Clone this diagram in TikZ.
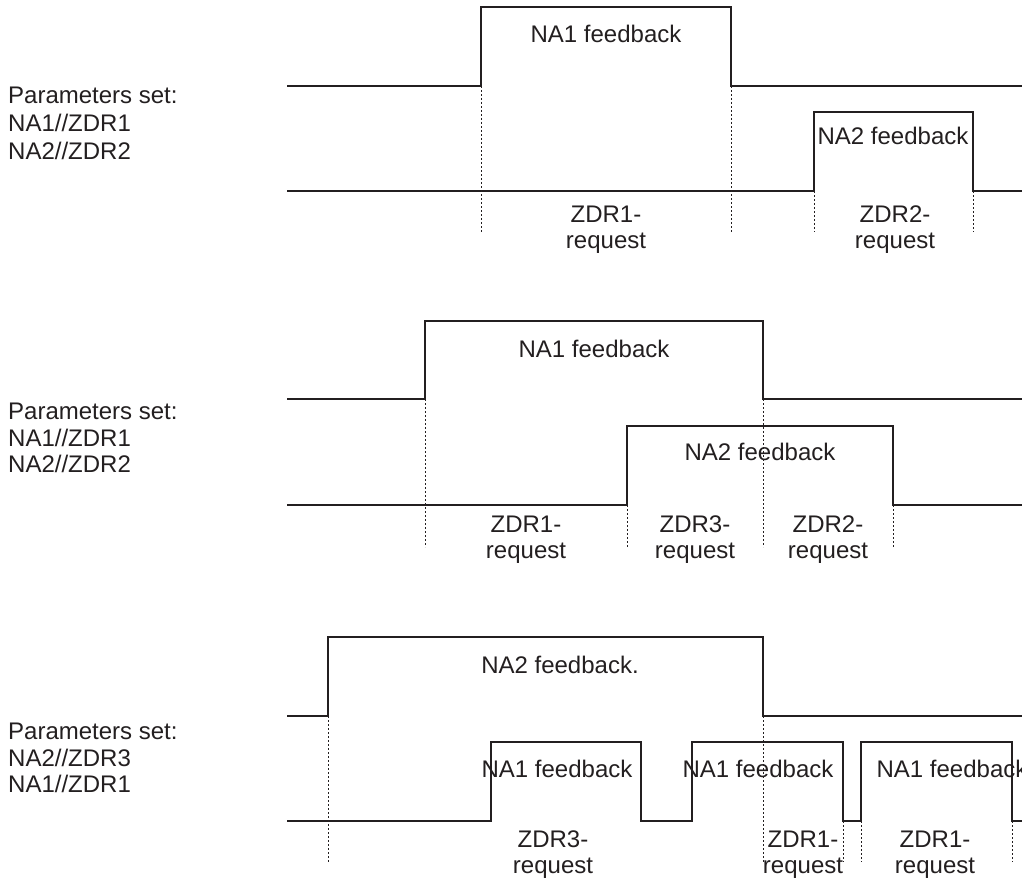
\documentclass[tikz,border=0pt]{standalone}
\usepackage{fontspec}
\setmainfont{Liberation Sans}
\definecolor{ink}{HTML}{231F20}
\begin{document}
\begin{tikzpicture}[x=1pt,y=-1pt,
  signal/.style={draw=ink, line width=1.3pt, line join=miter},
  guide/.style={draw=ink, line width=0.8pt, dash pattern=on 2pt off 2pt},
  lbl/.style={anchor=base, inner sep=0pt, text=ink, font=\fontsize{24}{27}\selectfont},
  param/.style={anchor=base west, inner sep=0pt, text=ink, font=\fontsize{24}{27}\selectfont}]
\useasboundingbox (0,0) rectangle (1022,880);

% ---------- first case ----------
\node[param] (a0) at (8,104) {Parameters set:};
\node[param] (a1) at (8,131.5) {NA1//ZDR1};
\node[param] (a2) at (8,159) {NA2//ZDR2};

\draw[signal] (287,86) -- (481,86) -- (481,7) -- (731,7) -- (731,86) -- (1022,86);
\draw[signal] (287,191) -- (814,191) -- (814,112) -- (973,112) -- (973,191) -- (1022,191);

\draw[guide] (481,86) -- (481,232);
\draw[guide] (731,86) -- (731,232);
\draw[guide] (814,191) -- (814,232);
\draw[guide] (973,191) -- (973,232);

\node[lbl] (a3) at (606,43) {NA1 feedback};
\node[lbl] (a4) at (893,145) {NA2 feedback};
\node[lbl] (a5) at (606,222) {ZDR1-};
\node[lbl] (a6) at (606,248) {request};
\node[lbl] (a7) at (895,222) {ZDR2-};
\node[lbl] (a8) at (895,248) {request};

% ---------- second case ----------
\node[param] (b0) at (8,419) {Parameters set:};
\node[param] (b1) at (8,446) {NA1//ZDR1};
\node[param] (b2) at (8,472.5) {NA2//ZDR2};

\draw[signal] (287,399) -- (425,399) -- (425,321) -- (763,321) -- (763,399) -- (1022,399);
\draw[signal] (287,505) -- (627,505) -- (627,426) -- (893,426) -- (893,505) -- (1022,505);

\draw[guide] (425,399) -- (425,547);
\draw[guide] (627,505) -- (627,547);
\draw[guide] (763,399) -- (763,547);
\draw[guide] (893,505) -- (893,547);

\node[lbl] (b3) at (594,357) {NA1 feedback};
\node[lbl] (b4) at (760,460) {NA2 feedback};
\node[lbl] (b5) at (526,532) {ZDR1-};
\node[lbl] (b6) at (526,558) {request};
\node[lbl] (b7) at (695,532) {ZDR3-};
\node[lbl] (b8) at (695,558) {request};
\node[lbl] (b9) at (828,532) {ZDR2-};
\node[lbl] (b10) at (828,558) {request};

% ---------- third case ----------
\node[param] (c0) at (8,739) {Parameters set:};
\node[param] (c1) at (8,766) {NA2//ZDR3};
\node[param] (c2) at (8,792.5) {NA1//ZDR1};

\draw[signal] (287,716) -- (328,716) -- (328,637) -- (763,637) -- (763,716) -- (1022,716);
\draw[signal] (287,821) -- (491,821) -- (491,742) -- (641,742) -- (641,821)
  -- (692,821) -- (692,742) -- (843,742) -- (843,821)
  -- (861,821) -- (861,742) -- (1012,742) -- (1012,821) -- (1022,821);

\draw[guide] (328,716) -- (328,862);
\draw[guide] (763,716) -- (763,862);
\draw[guide] (843,821) -- (843,862);
\draw[guide] (861,821) -- (861,862);
\draw[guide] (1012,821) -- (1012,862);

\node[lbl] (c3) at (560,673) {NA2 feedback.};
\node[lbl] (c4) at (557,777) {NA1 feedback};
\node[lbl] (c5) at (758,777) {NA1 feedback};
\node[lbl] (c6) at (952,777) {NA1 feedback};
\node[lbl] (c7) at (553,847) {ZDR3-};
\node[lbl] (c8) at (553,873) {request};
\node[lbl] (c9) at (803,847) {ZDR1-};
\node[lbl] (c10) at (803,873) {request};
\node[lbl] (c11) at (935,847) {ZDR1-};
\node[lbl] (c12) at (935,873) {request};

% the last pulse edge is drawn over its label
\draw[signal] (1012,742) -- (1012,821);
\end{tikzpicture}
\end{document}
